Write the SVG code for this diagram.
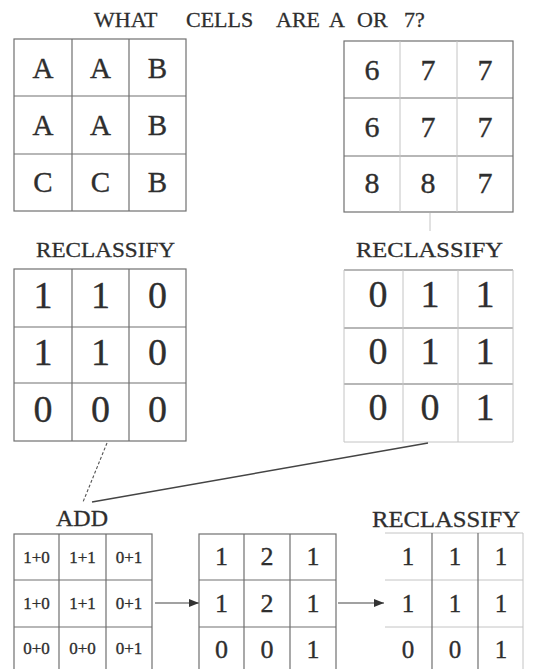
<svg xmlns="http://www.w3.org/2000/svg" width="533" height="669" viewBox="0 0 533 669">
<style>
.t{font-family:"Liberation Serif","Times New Roman",serif;fill:#2e2e2e;stroke:#2e2e2e;stroke-width:0.35;text-anchor:middle}
.l{font-family:"Liberation Serif","Times New Roman",serif;fill:#2e2e2e;stroke:#2e2e2e;stroke-width:0.3}
.g{stroke:#707070;stroke-width:1.2;fill:none}
.f{stroke:#c4c4c4;stroke-width:1;fill:none}
.big{font-size:29px}
.mid{font-size:38px}
.sm{font-size:17px}
.bt{font-size:26px}
</style>
<defs>
<marker id="ah" markerUnits="userSpaceOnUse" markerWidth="10" markerHeight="8" refX="10" refY="4" orient="auto">
<path d="M0,0 L10,4 L0,8 z" fill="#333"/>
</marker>
</defs>
<rect width="533" height="669" fill="#fff"/>

<g id="title">
<text class="l" font-size="22" y="27"><tspan x="94">WHAT</tspan><tspan x="186">CELLS</tspan><tspan x="276">ARE</tspan><tspan x="329">A</tspan><tspan x="357">OR</tspan><tspan x="404">7?</tspan></text>
</g>

<g id="grid-letters">
<rect class="g" x="14" y="39" width="172" height="172"/>
<path class="g" d="M72,39V211M129,39V211M14,96H186M14,154H186"/>
<g class="t big">
<text x="43" y="78">A</text><text x="100.5" y="78">A</text><text x="157.5" y="78">B</text>
<text x="43" y="135">A</text><text x="100.5" y="135">A</text><text x="157.5" y="135">B</text>
<text x="43" y="192">C</text><text x="100.5" y="192">C</text><text x="157.5" y="192">B</text>
</g>
</g>

<g id="grid-numbers">
<rect class="g" x="344" y="41" width="169" height="171"/>
<path class="g" d="M344,98H513M344,156H513"/>
<path class="f" d="M400,41V212M457,41V212"/>
<g class="t" font-size="30">
<text x="372" y="80">6</text><text x="428" y="80">7</text><text x="485" y="80">7</text>
<text x="372" y="137">6</text><text x="428" y="137">7</text><text x="485" y="137">7</text>
<text x="372" y="193">8</text><text x="428" y="193">8</text><text x="485" y="193">7</text>
</g>
</g>

<g id="reclass-left">
<text class="l" font-size="22" x="36" y="257" textLength="139" lengthAdjust="spacingAndGlyphs">RECLASSIFY</text>
<rect class="g" x="14" y="269" width="172" height="172"/>
<path class="g" d="M72,269V441M129,269V441M14,327H186M14,383H186"/>
<g class="t mid">
<text x="43" y="308">1</text><text x="100.5" y="308">1</text><text x="157.5" y="308">0</text>
<text x="43" y="365">1</text><text x="100.5" y="365">1</text><text x="157.5" y="365">0</text>
<text x="43" y="422">0</text><text x="100.5" y="422">0</text><text x="157.5" y="422">0</text>
</g>
</g>

<g id="reclass-right">
<text class="l" font-size="22" x="356" y="257" textLength="147" lengthAdjust="spacingAndGlyphs">RECLASSIFY</text>
<path class="g" d="M344,270H513M344,328H513M344,384H513"/>
<path class="f" d="M344,270V442H513M403,270V442M458,270V442M513,270V442"/>
<g class="t mid">
<text x="378" y="307">0</text><text x="430" y="307">1</text><text x="485" y="307">1</text>
<text x="378" y="364">0</text><text x="430" y="364">1</text><text x="485" y="364">1</text>
<text x="378" y="420">0</text><text x="430" y="420">0</text><text x="485" y="420">1</text>
</g>
</g>

<g id="connectors">
<path class="f" d="M430,213V231"/>
<path d="M107,443L83,502" stroke="#555" stroke-width="1.1" stroke-dasharray="3,2" fill="none"/>
<path d="M428,443L92,502" stroke="#444" stroke-width="1.4" fill="none"/>
<path d="M155,603H199" stroke="#444" stroke-width="1.1" marker-end="url(#ah)"/>
<path d="M338,603H384" stroke="#444" stroke-width="1.1" marker-end="url(#ah)"/>
</g>

<g id="add">
<text class="l" font-size="24" x="56" y="526">ADD</text>
<rect class="g" x="14" y="534" width="138" height="140"/>
<path class="g" d="M59,534V669M106,534V669M14,580H152M14,627H152"/>
<g class="t sm">
<text x="36.5" y="563">1+0</text><text x="82.5" y="563">1+1</text><text x="129" y="563">0+1</text>
<text x="36.5" y="609">1+0</text><text x="82.5" y="609">1+1</text><text x="129" y="609">0+1</text>
<text x="36.5" y="654">0+0</text><text x="82.5" y="654">0+0</text><text x="129" y="654">0+1</text>
</g>
</g>

<g id="sum">
<rect class="g" x="199" y="534" width="137" height="140"/>
<path class="g" d="M244,534V669M290,534V669M199,580H336M199,627H336"/>
<g class="t bt">
<text x="221.5" y="565">1</text><text x="267" y="565">2</text><text x="313" y="565">1</text>
<text x="221.5" y="612">1</text><text x="267" y="612">2</text><text x="313" y="612">1</text>
<text x="221.5" y="658">0</text><text x="267" y="658">0</text><text x="313" y="658">1</text>
</g>
</g>

<g id="reclass-final">
<text class="l" font-size="24" x="372" y="527" textLength="148" lengthAdjust="spacingAndGlyphs">RECLASSIFY</text>
<path class="f" d="M385,533H523M385,580H523M385,627H523M523,533V669"/>
<path class="g" d="M432,533V669M478,533V669"/>
<g class="t" font-size="25">
<text x="408" y="565">1</text><text x="455" y="565">1</text><text x="501" y="565">1</text>
<text x="408" y="612">1</text><text x="455" y="612">1</text><text x="501" y="612">1</text>
<text x="408" y="658">0</text><text x="455" y="658">0</text><text x="501" y="658">1</text>
</g>
</g>
</svg>
